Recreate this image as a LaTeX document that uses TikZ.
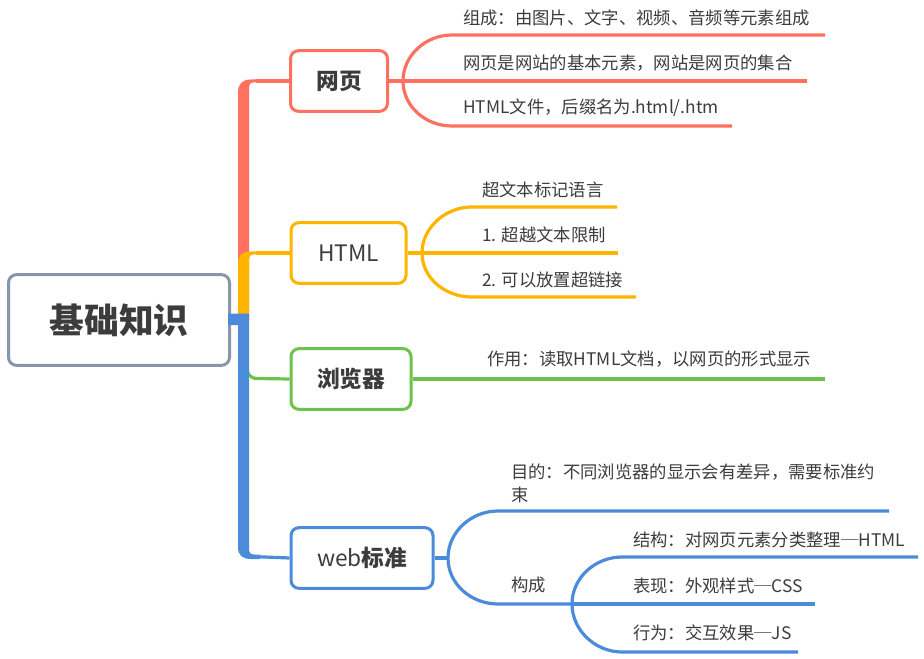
\documentclass[tikz,border=0pt]{standalone}
\usepackage{fontspec}
\setmainfont{Noto Sans CJK SC}
\definecolor{redc}{RGB}{255,112,94}
\definecolor{yellowc}{RGB}{255,180,0}
\definecolor{greenc}{RGB}{108,194,74}
\definecolor{bluec}{RGB}{76,139,217}
\definecolor{grayc}{RGB}{135,150,170}
\definecolor{textc}{RGB}{60,60,60}
\tikzset{
  mainbox/.style={draw=#1, line width=2.25pt, rounded corners=6pt, fill=white,
    minimum height=45.5pt, inner sep=0pt, text=textc, font=\fontsize{17}{20}\selectfont},
  rootbox/.style={draw=grayc, line width=2.25pt, rounded corners=6pt, fill=white,
    minimum width=165.75pt, minimum height=68pt, text=textc,
    font=\fontsize{26}{30}\selectfont\bfseries},
  leaf/.style={anchor=west, inner sep=0pt, text=textc, font=\fontsize{13}{17.25}\selectfont},
  conn/.style={draw=#1, line width=2.4pt},
}
\begin{document}
\begin{tikzpicture}[x=0.75pt,y=-0.75pt]
\useasboundingbox (0,0) rectangle (924,659);

% main nodes
\node[rootbox] (root) at (119,320) {基础知识};
\node[mainbox=redc, minimum width=72.75pt] (wy) at (339,81) {\bfseries 网页};
\node[mainbox=yellowc, minimum width=86.25pt] (html) at (348.5,253) {HTML};
\node[mainbox=greenc, minimum width=90pt] (llq) at (351,379) {\bfseries 浏览器};
\node[mainbox=bluec, minimum width=106.5pt] (web) at (362,558) {web\bfseries 标准};

% trunk
\fill[redc] (238,320) -- (238,93) .. controls (238,84) and (242,79.5) .. (251,79.5)
  -- (258,79.5) -- (258,82.5) -- (253,82.5) .. controls (250.5,82.5) and (249,84) .. (249,87) -- (249,320) -- cycle;
\fill[yellowc] (238,320) -- (238,264) .. controls (238,255) and (242,251.5) .. (251,251.5)
  -- (258,251.5) -- (258,254.5) -- (253,254.5) .. controls (250.5,254.5) and (249,256) .. (249,259) -- (249,320) -- cycle;
\coordinate (gs) at (246.5,362);
\coordinate (gc) at (258,378.5);
\draw[conn=greenc] (gs) .. controls (246.5,374) and (249,378.5) .. (gc) -- (llq.west);
\fill[bluec] (228,313.5) -- (249,313.5) -- (249,549) .. controls (249,552.5) and (250.5,554.5) .. (254,554.5)
  -- (260,554.5) -- (260,559) -- (251,559) .. controls (242,559) and (238,555) .. (238,547)
  -- (238,325) -- (228,325) -- cycle;
\coordinate (wyc) at (256,81);
\coordinate (htc) at (256,253);
\coordinate (wbc) at (258,556.75);
\draw[conn=redc] (wyc) -- (wy.west);
\draw[conn=yellowc] (htc) -- (html.west);
\draw[conn=bluec] (wbc) -- (web.west);

% 网页 branch
\coordinate (wys) at (403,81);
\coordinate (wy1) at (825,35);
\coordinate (wy2) at (807,81);
\coordinate (wy3) at (732,126);
\draw[conn=redc] (wy.east) -- (wys) -- (wy2);
\draw[conn=redc] (wys) .. controls (403,56) and (425,35) .. (452,35) -- (wy1);
\draw[conn=redc] (wys) .. controls (403,106) and (425,126) .. (452,126) -- (wy3);
\node[leaf] (t1) at (463,18) {组成：由图片、文字、视频、音频等元素组成};
\node[leaf] (t2) at (463,63) {网页是网站的基本元素，网站是网页的集合};
\node[leaf] (t3) at (463,108) {HTML文件，后缀名为.html/.htm};

% HTML branch
\coordinate (hs) at (422,253);
\coordinate (h1e) at (617,207);
\coordinate (h2e) at (618,253);
\coordinate (h3e) at (636,297);
\draw[conn=yellowc] (html.east) -- (hs) -- (h2e);
\draw[conn=yellowc] (hs) .. controls (422,228) and (445,207) .. (472,207) -- (h1e);
\draw[conn=yellowc] (hs) .. controls (422,278) and (445,297) .. (472,297) -- (h3e);
\node[leaf] (h1) at (482,190) {超文本标记语言};
\node[leaf] (h2) at (482,235) {1. 超越文本限制};
\node[leaf] (h3) at (482,280) {2. 可以放置超链接};

% 浏览器 branch
\coordinate (b1e) at (825,379);
\draw[conn=greenc] (llq.east) -- (b1e);
\node[leaf] (b1) at (487,359) {作用：读取HTML文档，以网页的形式显示};

% web标准 branch
\coordinate (ws) at (448,558);
\coordinate (w1e) at (889,511);
\coordinate (ss) at (572,604);
\coordinate (s1e) at (918,557);
\coordinate (s2e) at (815,604);
\coordinate (s3e) at (798,652);
\draw[conn=bluec] (web.east) -- (ws);
\draw[conn=bluec] (ws) .. controls (448,532) and (471,511) .. (498,511) -- (w1e);
\draw[conn=bluec] (ws) .. controls (448,584) and (471,604) .. (498,604) -- (ss);
\draw[conn=bluec] (ss) -- (s2e);
\draw[conn=bluec] (ss) .. controls (572,578) and (595,557) .. (622,557) -- (s1e);
\draw[conn=bluec] (ss) .. controls (572,630) and (595,652) .. (622,652) -- (s3e);
\node[leaf, align=left] (w1) at (511,483.5) {目的：不同浏览器的显示会有差异，需要标准约\\束};
\node[leaf] (w2) at (511,585) {构成};
\node[leaf] (s1) at (633,540) {结构：对网页元素分类整理─HTML};
\node[leaf] (s2) at (633,586) {表现：外观样式─CSS};
\node[leaf] (s3) at (633,633) {行为：交互效果─JS};
\end{tikzpicture}
\end{document}
